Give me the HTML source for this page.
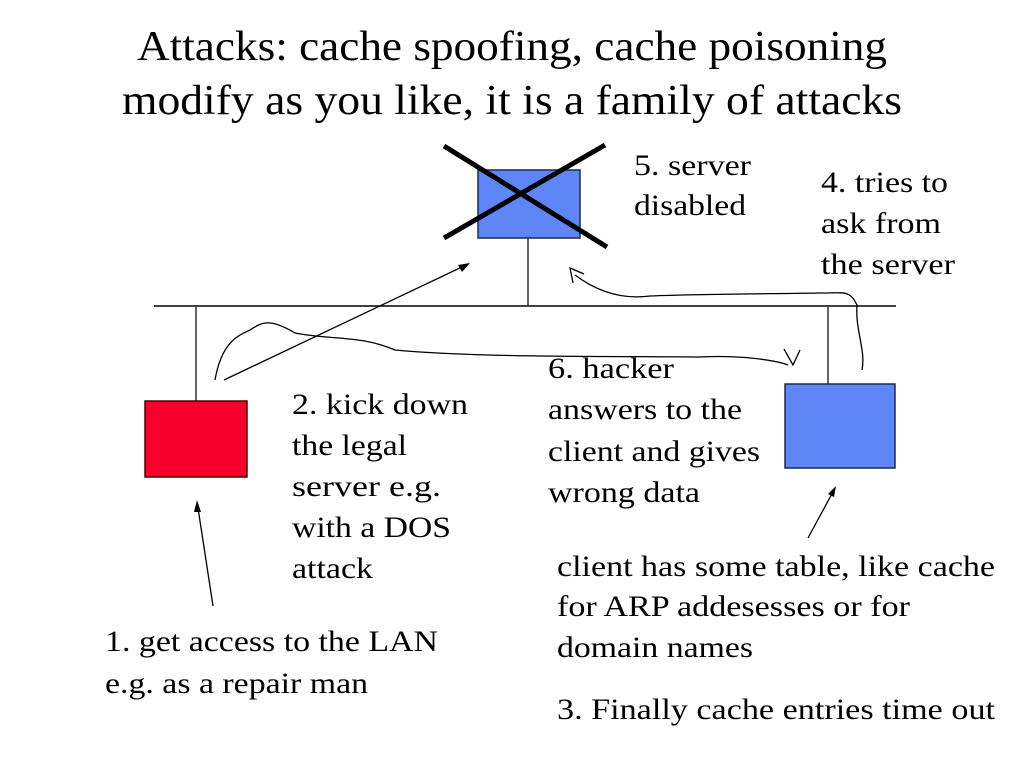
<!DOCTYPE html>
<html><head><meta charset="utf-8"><style>
html,body{margin:0;padding:0;background:#fff}
svg{display:block}
text{font-family:"Liberation Serif",serif;fill:#000}
</style></head><body>
<svg width="1024" height="768" viewBox="0 0 1024 768" xmlns="http://www.w3.org/2000/svg">
<text x="137" y="60" font-size="42" textLength="750" lengthAdjust="spacingAndGlyphs">Attacks: cache spoofing, cache poisoning</text>
<text x="122" y="114" font-size="42" textLength="780" lengthAdjust="spacingAndGlyphs">modify as you like, it is a family of attacks</text>

<line x1="154" y1="306" x2="896" y2="306" stroke="#000" stroke-width="1.5"/>
<line x1="528" y1="238" x2="528" y2="306" stroke="#333" stroke-width="1.5"/>
<line x1="196" y1="306" x2="196" y2="401" stroke="#333" stroke-width="1.5"/>
<line x1="828" y1="306" x2="828" y2="384" stroke="#333" stroke-width="1.5"/>

<rect x="478" y="170" width="102" height="68" fill="#5f86f7" stroke="#1a2a50" stroke-width="1.5"/>
<line x1="444" y1="146" x2="607" y2="247" stroke="#000" stroke-width="5"/>
<line x1="444" y1="238" x2="605" y2="145" stroke="#000" stroke-width="5"/>

<rect x="145" y="401" width="102" height="76" fill="#f7002c" stroke="#500" stroke-width="1.5"/>
<rect x="785" y="384" width="110" height="84" fill="#5f86f7" stroke="#1a2a50" stroke-width="1.5"/>

<g fill="none" stroke="#000" stroke-width="1.3">
<line x1="224" y1="380" x2="464" y2="266"/>
<path d="M215,380 C222,340 240,335 250,330 C262,322 270,318 295,333 C330,340 360,335 395,350 C480,358 620,356 700,357 C740,355 775,360 788,365"/>
<path d="M784,349 L793,365 L800,350"/>
<path d="M862,370 C866,350 855,330 857,305 C850,290 845,293 820,293 C760,294 700,294 650,296 C620,300 595,290 575,275"/>
<path d="M573,283 L570,268 L584,274"/>
<line x1="213" y1="606" x2="198" y2="508"/>
<line x1="808" y1="538" x2="834" y2="490"/>
</g>
<polygon points="470,263 458,265 462,272" fill="#000"/>
<polygon points="197,500 194,512 201,512" fill="#000"/>
<polygon points="836,486 828,494 834,497" fill="#000"/>

<g font-size="30" lengthAdjust="spacingAndGlyphs">
<text x="634" y="175" textLength="117" lengthAdjust="spacingAndGlyphs">5. server</text>
<text x="634" y="215" textLength="112" lengthAdjust="spacingAndGlyphs">disabled</text>
<text x="821" y="192" textLength="127" lengthAdjust="spacingAndGlyphs">4. tries to</text>
<text x="821" y="233" textLength="120" lengthAdjust="spacingAndGlyphs">ask from</text>
<text x="821" y="274" textLength="134" lengthAdjust="spacingAndGlyphs">the server</text>
<text x="292" y="414" textLength="176" lengthAdjust="spacingAndGlyphs">2. kick down</text>
<text x="292" y="455" textLength="115" lengthAdjust="spacingAndGlyphs">the legal</text>
<text x="292" y="496" textLength="149" lengthAdjust="spacingAndGlyphs">server e.g.</text>
<text x="292" y="537" textLength="159" lengthAdjust="spacingAndGlyphs">with a DOS</text>
<text x="292" y="578" textLength="81" lengthAdjust="spacingAndGlyphs">attack</text>
<text x="548" y="378" textLength="126" lengthAdjust="spacingAndGlyphs">6. hacker</text>
<text x="548" y="419" textLength="194" lengthAdjust="spacingAndGlyphs">answers to the</text>
<text x="548" y="461" textLength="212" lengthAdjust="spacingAndGlyphs">client and gives</text>
<text x="548" y="502" textLength="152" lengthAdjust="spacingAndGlyphs">wrong data</text>
<text x="557" y="576" textLength="438" lengthAdjust="spacingAndGlyphs">client has some table, like cache</text>
<text x="557" y="616" textLength="353" lengthAdjust="spacingAndGlyphs">for ARP addesesses or for</text>
<text x="557" y="657" textLength="196" lengthAdjust="spacingAndGlyphs">domain names</text>
<text x="557" y="719" textLength="438" lengthAdjust="spacingAndGlyphs">3. Finally cache entries time out</text>
<text x="105" y="651" textLength="333" lengthAdjust="spacingAndGlyphs">1. get access to the LAN</text>
<text x="105" y="693" textLength="263" lengthAdjust="spacingAndGlyphs">e.g. as a repair man</text>
</g>
</svg>
</body></html>
